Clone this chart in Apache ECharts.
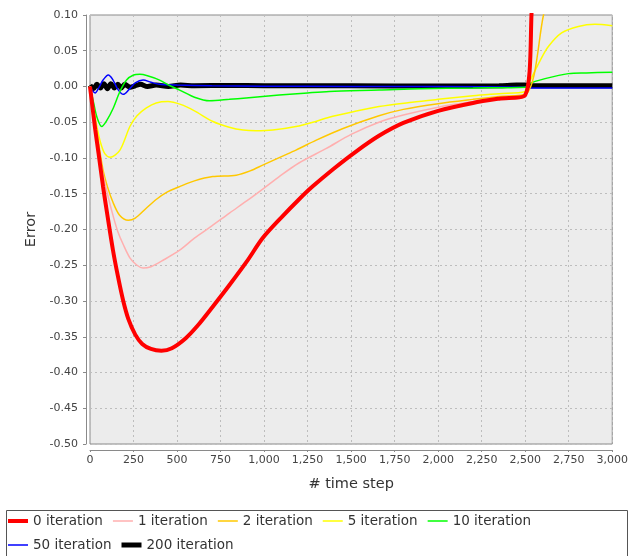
<!DOCTYPE html>
<html>
<head>
<meta charset="utf-8">
<script src="https://cdn.jsdelivr.net/npm/echarts@6/dist/echarts.min.js"></script>
<style>html,body{margin:0;padding:0;background:#fff;}#c{width:631px;height:556px;}</style>
</head>
<body>
<div id="c"></div>
<script>
const seriesNames = ['0 iteration','1 iteration','2 iteration','5 iteration','10 iteration','50 iteration','200 iteration'];
const seriesColors = ['#ff0000','#ffafaf','#ffc800','#ffff00','#00ff00','#0000ff','#000000'];
const seriesWidths = [4,1.5,1.5,1.5,1.5,1.5,5];
const legendWidths = [4,1.5,1.5,1.5,1.5,1.5,5];

const iter0 = [[0,0],[15,-0.03],[30,-0.06],[50,-0.095],[75,-0.14],[100,-0.18],[132,-0.229],[160,-0.265],[190,-0.299],[220,-0.325],[260,-0.347],[300,-0.36],[350,-0.367],[410,-0.3695],[470,-0.366],[550,-0.352],[620,-0.334],[705,-0.308],[800,-0.278],[900,-0.245],[992,-0.212],[1100,-0.183],[1200,-0.158],[1278,-0.14],[1400,-0.115],[1528,-0.091],[1660,-0.069],[1800,-0.051],[2000,-0.034],[2200,-0.023],[2350,-0.017],[2500,-0.012],[2540,0.12],[2600,0.3]];
const iter1 = [[0,0],[30,-0.055],[60,-0.105],[100,-0.15],[134,-0.182],[160,-0.203],[191,-0.221],[230,-0.24],[270,-0.25],[305,-0.254],[350,-0.252],[420,-0.243],[515,-0.229],[600,-0.212],[700,-0.195],[801,-0.177],[900,-0.16],[1000,-0.142],[1087,-0.126],[1200,-0.107],[1355,-0.087],[1500,-0.067],[1660,-0.05],[1800,-0.04],[2000,-0.029],[2200,-0.021],[2350,-0.016],[2500,-0.012],[2545,0.12],[2600,0.25]];
const iter2 = [[0,0],[25,-0.04],[50,-0.08],[75,-0.117],[100,-0.14],[132,-0.162],[170,-0.18],[220,-0.187],[260,-0.184],[320,-0.171],[380,-0.158],[440,-0.148],[515,-0.14],[600,-0.132],[705,-0.126],[840,-0.124],[920,-0.118],[992,-0.11],[1100,-0.098],[1183,-0.089],[1300,-0.075],[1450,-0.059],[1660,-0.041],[1800,-0.032],[2000,-0.024],[2200,-0.018],[2350,-0.014],[2507,-0.01],[2605,0.1],[2650,0.15]];
const iter5 = [[0,0],[20,-0.03],[38,-0.054],[60,-0.078],[85,-0.094],[115,-0.099],[172,-0.089],[229,-0.056],[270,-0.041],[324,-0.03],[380,-0.023],[448,-0.021],[520,-0.025],[600,-0.034],[706,-0.049],[800,-0.057],[880,-0.061],[954,-0.062],[1050,-0.061],[1183,-0.056],[1280,-0.05],[1374,-0.043],[1500,-0.036],[1660,-0.028],[1850,-0.022],[2000,-0.018],[2200,-0.013],[2350,-0.01],[2500,-0.007],[2520,0.004],[2587,0.037],[2633,0.056],[2709,0.075],[2805,0.084],[2900,0.087],[3000,0.085]];
const iter10 = [[0,0],[20,-0.022],[40,-0.043],[67,-0.056],[95,-0.048],[134,-0.03],[170,-0.008],[210,0.009],[250,0.016],[286,0.017],[330,0.015],[400,0.009],[460,0.001],[515,-0.005],[600,-0.015],[687,-0.02],[800,-0.018],[897,-0.016],[1087,-0.012],[1250,-0.009],[1374,-0.007],[1660,-0.005],[1900,-0.003],[2200,-0.002],[2500,-0.001],[2520,0.004],[2614,0.011],[2748,0.018],[2850,0.019],[3000,0.02]];
const iter50 = [[0,0],[15,-0.006],[29,-0.009],[50,-0.002],[75,0.009],[105,0.016],[130,0.01],[160,-0.004],[191,-0.011],[225,-0.004],[260,0.005],[305,0.009],[350,0.006],[400,0.003],[500,0.002],[700,0.001],[1000,0.0005],[1500,0],[2000,0],[2500,-0.001],[2520,-0.002],[3000,-0.002]];
const iter200 = [[0,0.002],[20,-0.003],[40,0.003],[60,-0.002],[80,0.004],[100,-0.003],[120,0.004],[140,-0.002],[160,0.003],[180,-0.002],[200,0.003],[230,-0.001],[260,0.001],[290,0.003],[330,0.0],[380,0.002],[450,0.0],[520,0.002],[600,0.001],[800,0.0015],[1000,0.001],[1500,0.001],[2000,0.0007],[2350,0.001],[2450,0.002],[2500,0.002],[2520,0.001],[3000,0.001]];
const allData = [iter0, iter1, iter2, iter5, iter10, iter50, iter200];

const xTicks = {min: 0, max: 3000, interval: 250};
const yTicks = {min: -0.5, max: 0.1, interval: 0.05};

const FONT = 'DejaVu Sans';
const chart = echarts.init(document.getElementById('c'), null, {renderer: 'canvas'});
const drawOrder = [6,5,4,3,2,1,0];
chart.setOption({
  animation: false,
  backgroundColor: '#ffffff',
  grid: {left: 90, right: 16, top: 15, bottom: 112, show: true, backgroundColor: '#ececec', borderColor: '#8a8a8a', borderWidth: 1},
  xAxis: {
    type: 'value', min: xTicks.min, max: xTicks.max, interval: xTicks.interval,
    offset: 6,
    name: '# time step', nameLocation: 'middle', nameGap: 27,
    nameTextStyle: {fontFamily: FONT, fontSize: 14.5, color: '#333'},
    axisLine: {show: true, onZero: false, lineStyle: {color: '#8a8a8a'}},
    axisTick: {show: true, length: 2, lineStyle: {color: '#8a8a8a'}},
    axisLabel: {fontFamily: FONT, fontSize: 11, color: '#444', margin: 5, formatter: v => v.toLocaleString('en-US')},
    splitLine: {show: true, lineStyle: {color: '#bdbdbd', type: [2, 3], width: 1}}
  },
  yAxis: {
    type: 'value', min: yTicks.min, max: yTicks.max, interval: yTicks.interval,
    offset: 4,
    name: 'Error', nameLocation: 'middle', nameGap: 44,
    nameTextStyle: {fontFamily: FONT, fontSize: 14.5, color: '#333'},
    axisLine: {show: true, onZero: false, lineStyle: {color: '#8a8a8a'}},
    axisTick: {show: true, length: 3, lineStyle: {color: '#8a8a8a'}},
    axisLabel: {fontFamily: FONT, fontSize: 11, color: '#444', margin: 8, formatter: v => v.toFixed(2)},
    splitLine: {show: true, lineStyle: {color: '#bdbdbd', type: [2, 3], width: 1}}
  },
  legend: {
    left: 3, top: 509, width: 560, itemGap: 10, itemWidth: 20, itemHeight: 16,
    textStyle: {fontFamily: FONT, fontSize: 13.5, color: '#333'},
    data: seriesNames.map((n, i) => ({
      name: n,
      icon: 'path://M0,0h20v' + legendWidths[i] + 'h-20z',
      itemStyle: {color: seriesColors[i], borderWidth: 0}
    }))
  },
  graphic: [{type: 'rect', left: 4, top: 508, shape: {width: 621, height: 70}, style: {fill: 'none', stroke: '#555', lineWidth: 1}, silent: true}],
  series: drawOrder.map(i => ({
    name: seriesNames[i], type: 'line', data: allData[i], showSymbol: false, symbol: 'none',
    smooth: 0.3, clip: true,
    lineStyle: {color: seriesColors[i], width: seriesWidths[i]},
    itemStyle: {color: seriesColors[i]}, z: 2 + (7 - i)
  }))
});
</script>
</body>
</html>
